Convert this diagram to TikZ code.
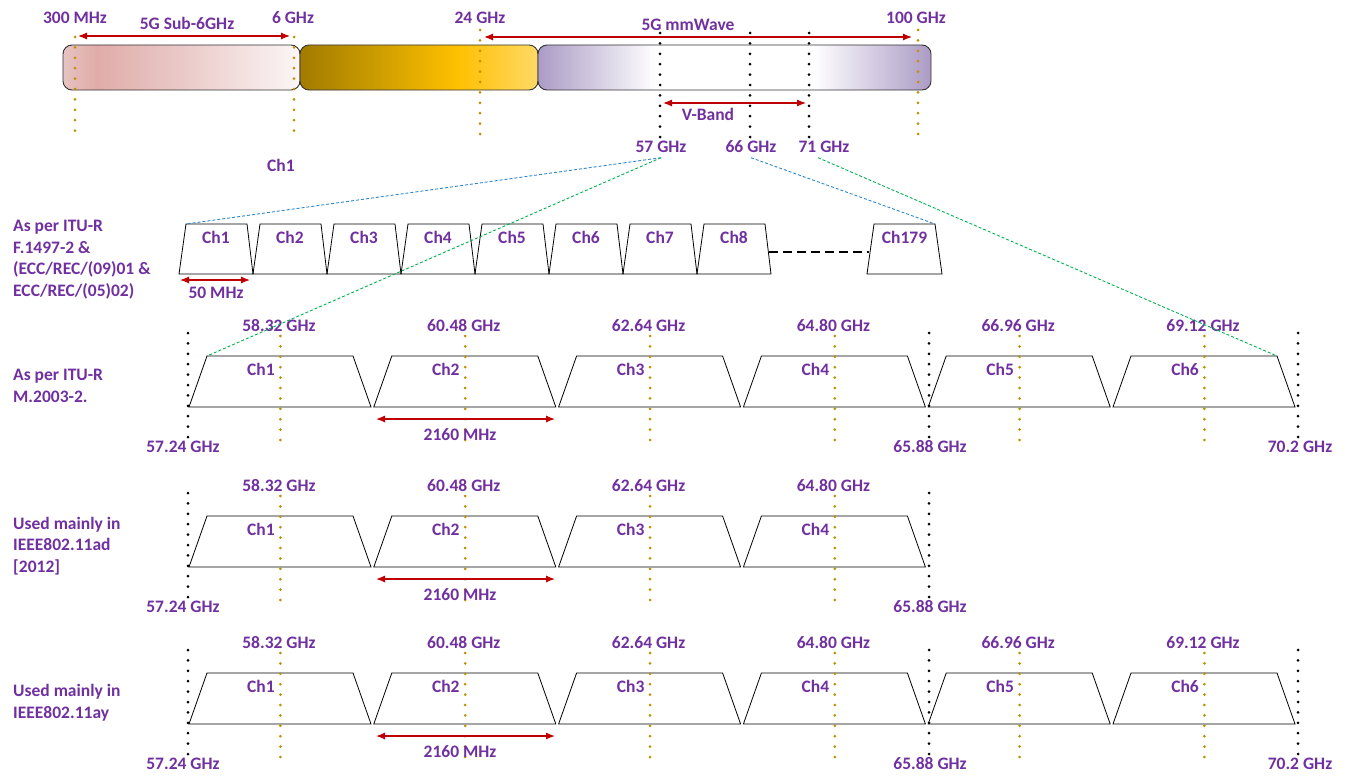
\documentclass[tikz,border=0pt]{standalone}
\usepackage{fontspec}
\setmainfont{Carlito}
\usetikzlibrary{arrows.meta, positioning}

\definecolor{bandtext}{HTML}{7030A0}
\definecolor{goldline}{HTML}{BF9000}
\definecolor{arrowred}{HTML}{C00000}
\definecolor{linkblue}{HTML}{2E86D1}
\definecolor{linkgreen}{HTML}{00B050}
\definecolor{subA}{HTML}{E6C3C2}
\definecolor{subB}{HTML}{E0ACA9}
\definecolor{subC}{HTML}{E8C6C4}
\definecolor{subD}{HTML}{FCF6F6}
\definecolor{goldA}{HTML}{A27B00}
\definecolor{goldB}{HTML}{C99A00}
\definecolor{goldC}{HTML}{FFC000}
\definecolor{goldD}{HTML}{FFD966}
\definecolor{mmwA}{HTML}{AB9BC5}

\pgfdeclarehorizontalshading{subsixshade}{100bp}{color(0bp)=(subA); color(25bp)=(subA); color(32bp)=(subB); color(48bp)=(subC); color(75bp)=(subD); color(100bp)=(subD)}
\pgfdeclarehorizontalshading{goldshade}{100bp}{color(0bp)=(goldA); color(25bp)=(goldA); color(40bp)=(goldB); color(58bp)=(goldC); color(75bp)=(goldD); color(100bp)=(goldD)}
\pgfdeclarehorizontalshading{mmwshade}{100bp}{color(0bp)=(mmwA); color(25bp)=(mmwA); color(40bp)=(white); color(60bp)=(white); color(75bp)=(mmwA); color(100bp)=(mmwA)}

\begin{document}
\begin{tikzpicture}[
		x=1pt,
		y=-1pt,
		font=\fontsize{17.5}{21.5}\selectfont\bfseries,
		lbl/.style={text=bandtext, inner sep=1pt, text height=11pt, text depth=0pt},
		rowtitle/.style={text=bandtext, align=left, inner sep=0pt, anchor=base west},
		chan/.style={draw=black, line width=0.8pt},
		band/.style={draw=black!80, line width=0.9pt, rounded corners=9pt},
		golddot/.style={goldline, line width=3pt, line cap=round, dash pattern=on 0pt off 10.4pt},
		blackdot/.style={black, line width=3pt, line cap=round, dash pattern=on 0pt off 10.4pt},
		span/.style={arrowred, line width=1.2pt, {Latex[length=9pt,width=7pt]}-{Latex[length=9pt,width=7pt]}},
		link/.style={line width=0.9pt, dash pattern=on 3pt off 2pt}
		]
		\useasboundingbox (0,0) rectangle (1349,776);
		
		% Spectrum bar
		\shade[band, shading=subsixshade] (63,45) rectangle (300,90);
		\shade[band, shading=goldshade] (300,45) rectangle (538,90);
		\shade[band, shading=mmwshade] (538,45) rectangle (931,90);
		
		% Band edges
		\foreach \xx/\ya in {75/37, 294/37, 480/30, 918/30}
			\draw[golddot] (\xx,\ya) -- (\xx,135);
		\foreach \xx in {660,750,809}
			\draw[blackdot] (\xx,33) -- (\xx,138);
		
		% Labels
		\node[lbl] (f300) at (75,18) {300 MHz};
		\node[lbl] (f6) at (293,18) {6 GHz};
		\node[lbl] (f24) at (480,18) {24 GHz};
		\node[lbl] (f100) at (916,18) {100 GHz};
		\node[lbl] (subsix) at (187,24) {5G Sub-6GHz};
		\node[lbl] (mmw) at (688,25) {5G mmWave};
		\node[lbl] (vband) at (708,115) {V-Band};
		\node[lbl] (f57) at (661,147) {57 GHz};
		\node[lbl] (f66) at (751,147) {66 GHz};
		\node[lbl] (f71) at (824,147) {71 GHz};
		\node[lbl] (strayc) at (281,166) {Ch1};
		
		\coordinate (s6a) at (78,36);
		\coordinate (s6b) at (290,36);
		\coordinate (mma) at (484,37);
		\coordinate (mmb) at (912,37);
		\coordinate (vba) at (663,103);
		\coordinate (vbb) at (806,103);
		\draw[span] (s6a) -- (s6b);
		\draw[span] (mma) -- (mmb);
		\draw[span] (vba) -- (vbb);
		
		% F.1497-2 channels
		\foreach \i in {1,...,8} {
			\pgfmathsetmacro{\xa}{179+74*(\i-1)}
			\draw[chan] (\xa,274) -- ++(7,-50) coordinate (a\i-tl) -- ++(61,0) coordinate (a\i-tr) -- ++(6,50) -- cycle;
			\node[lbl] (a\i) at (\xa+37,238) {Ch\i};
		}
		\draw[chan] (867,274) -- ++(7,-50) coordinate (a179-tl) -- ++(61,0) coordinate (a179-tr) -- ++(7,50) -- cycle;
		\node[lbl] (a179) at (904.5,238) {Ch179};
		\coordinate (a8-gap) at (769,252);
		\coordinate (a179-gap) at (869,252);
		\draw[line width=2pt, dash pattern=on 9pt off 5pt] (a8-gap) -- (a179-gap);
		\coordinate (w50a) at (180,280);
		\coordinate (w50b) at (250,280);
		\draw[span] (w50a) -- (w50b);
		\node[lbl] (w50) at (216,293) {50 MHz};
		
		% 2160 MHz channel rows
		\foreach \r/\Y/\n in {b/356/6, c/516/4, d/673/6} {
			\foreach \k/\fc in {1/58.32, 2/60.48, 3/62.64, 4/64.80, 5/66.96, 6/69.12} {
				\ifnum\k>\n\relax\else
					\pgfmathsetmacro{\xb}{188+184.8*(\k-1)}
					\draw[chan] (\xb+1,\Y+51) -- (\xb+19,\Y) coordinate (\r\k-tl) -- (\xb+165,\Y) coordinate (\r\k-tr) -- (\xb+183,\Y+51) -- cycle;
					\draw[golddot] (\xb+92.4,\Y-20) -- (\xb+92.4,\Y+84);
					\node[lbl] (\r\k-f) at (\xb+91,\Y-30) {\fc\ GHz};
					\node[lbl] (\r\k) at (\xb+73,\Y+14) {Ch\k};
				\fi
			}
			\draw[blackdot] (188,\Y-23) -- (188,\Y+84);
			\draw[blackdot] (929,\Y-23) -- (929,\Y+84);
			\node[lbl] (\r-lo) at (183,\Y+91) {57.24 GHz};
			\node[lbl] (\r-mid) at (930,\Y+91) {65.88 GHz};
			\ifnum\n=6
				\draw[blackdot] (1298,\Y-23) -- (1298,\Y+84);
				\node[lbl] (\r-hi) at (1300,\Y+91) {70.2 GHz};
			\fi
			\coordinate (\r-bwa) at (376,\Y+63);
			\coordinate (\r-bwb) at (555,\Y+63);
			\draw[span] (\r-bwa) -- (\r-bwb);
			\node[lbl] (\r-bw) at (460,\Y+79) {2160 MHz};
		}
		
		% Row titles (base = last line)
		\node[rowtitle] (titlea) at (13,296) {As per ITU-R\\F.1497-2 \&\\(ECC/REC/(09)01 \&\\ECC/REC/(05)02)};
		\node[rowtitle] (titleb) at (13,402) {As per ITU-R\\M.2003-2.};
		\node[rowtitle] (titlec) at (13,572) {Used mainly in\\IEEE802.11ad\\{[2012]}};
		\node[rowtitle] (titled) at (13,718) {Used mainly in\\IEEE802.11ay};
		
		% Zoom links
		\draw[link, linkblue] ([yshift=-4pt]f57.south) -- (a1-tl);
		\draw[link, linkblue] ([yshift=-4pt]f66.south) -- (a179-tr);
		\draw[link, linkgreen] ([yshift=-4pt]f57.south) -- (b1-tl);
		\draw[link, linkgreen] ([xshift=-6pt,yshift=-4pt]f71.south) -- (b6-tr);
	\end{tikzpicture}
\end{document}
